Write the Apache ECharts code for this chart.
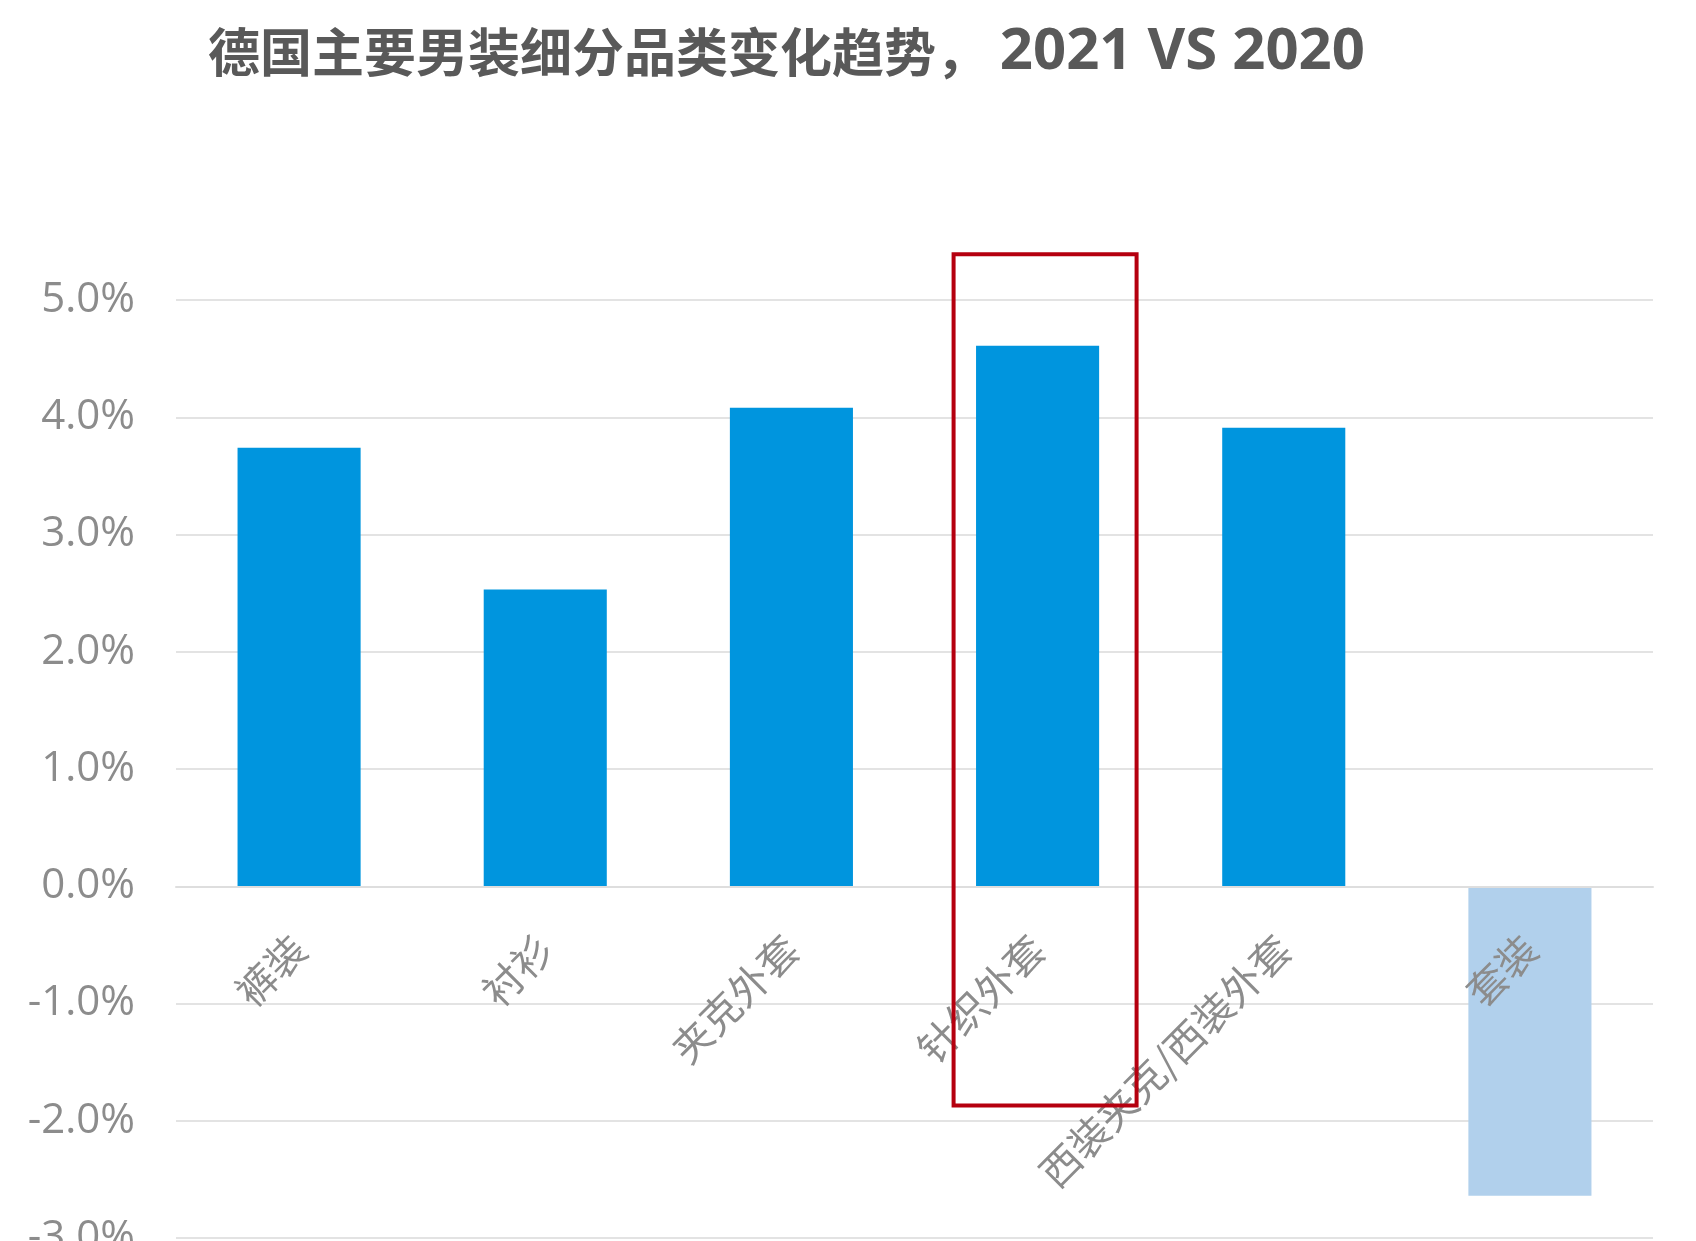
<!DOCTYPE html>
<html>
<head>
<meta charset="utf-8">
<script src="https://cdn.jsdelivr.net/npm/echarts@6/dist/echarts.min.js"></script>
<style>
  html, body { margin: 0; padding: 0; background: #fff; }
  #main { width: 1696px; height: 1241px; }
</style>
</head>
<body>
<div id="main"></div>
<script>
// 品类 & 2021 vs 2020 变化 (%)
var categories = ['裤装', '衬衫', '夹克外套', '针织外套', '西装夹克/西装外套', '套装'];
var changes = [3.74, 2.53, 4.08, 4.61, 3.91, -2.64];
var highlightCategory = '针织外套';

var myChart = echarts.init(document.getElementById('main'));

var barData = changes.map(function (v) {
    return {
        value: v,
        itemStyle: { color: v < 0 ? '#b1d0ec' : '#0095de' }
    };
});

var option = {
    animation: false,
    title: {
        text: '{a|德国主要男装细分品类变化趋势，} {b|2021 VS 2020}',
        left: 203,
        top: 18,
        textStyle: {
            color: '#595959',
            fontSize: 52,
            fontWeight: 'bold',
            fontFamily: 'Noto Sans CJK SC',
            rich: {
                a: {
                    color: '#595959',
                    fontSize: 52,
                    fontWeight: 'bold',
                    fontFamily: 'Noto Sans CJK SC'
                },
                b: {
                    color: '#595959',
                    fontSize: 58,
                    fontWeight: 'bold',
                    fontFamily: 'Open Sans'
                }
            }
        }
    },
    grid: {
        left: 176,
        right: 43,
        top: 300,
        bottom: 3,
        containLabel: false,
        outerBoundsMode: 'none'
    },
    xAxis: {
        type: 'category',
        data: categories,
        z: 10,
        axisLine: { onZero: false, lineStyle: { color: '#dedede', width: 2 } },
        axisTick: { show: false },
        axisLabel: {
            rotate: 45,
            margin: 56,
            color: '#8c8c8c',
            fontSize: 40,
            fontFamily: 'Noto Sans CJK SC',
            interval: 0
        }
    },
    yAxis: {
        type: 'value',
        min: -3,
        max: 5,
        interval: 1,
        axisLine: { show: false },
        axisTick: { show: false },
        splitLine: { lineStyle: { color: '#e3e3e3', width: 2 } },
        axisLabel: {
            margin: 41,
            color: '#8c8c8c',
            fontSize: 42,
            fontFamily: 'Open Sans',
            formatter: function (v) { return v.toFixed(1) + '%'; }
        }
    },
    series: [
        {
            type: 'bar',
            barWidth: '50%',
            z: 2,
            data: barData
        }
    ]
};

myChart.setOption(option);

// x轴移到 0 处
var yZero = myChart.convertToPixel({ yAxisIndex: 0 }, 0);
var yMin = myChart.convertToPixel({ yAxisIndex: 0 }, -3);
myChart.setOption({ xAxis: { offset: yZero - yMin } });

// 红框标注 针织外套
var cx = myChart.convertToPixel({ xAxisIndex: 0 }, highlightCategory);
var yTop = myChart.convertToPixel({ yAxisIndex: 0 }, 5.39);
var yBottom = myChart.convertToPixel({ yAxisIndex: 0 }, -1.87);
myChart.setOption({
    graphic: [
        {
            type: 'rect',
            shape: { x: cx - 84, y: yTop, width: 183, height: yBottom - yTop },
            style: { fill: 'none', stroke: '#b5000f', lineWidth: 4 },
            z: 100
        }
    ]
});
</script>
</body>
</html>
